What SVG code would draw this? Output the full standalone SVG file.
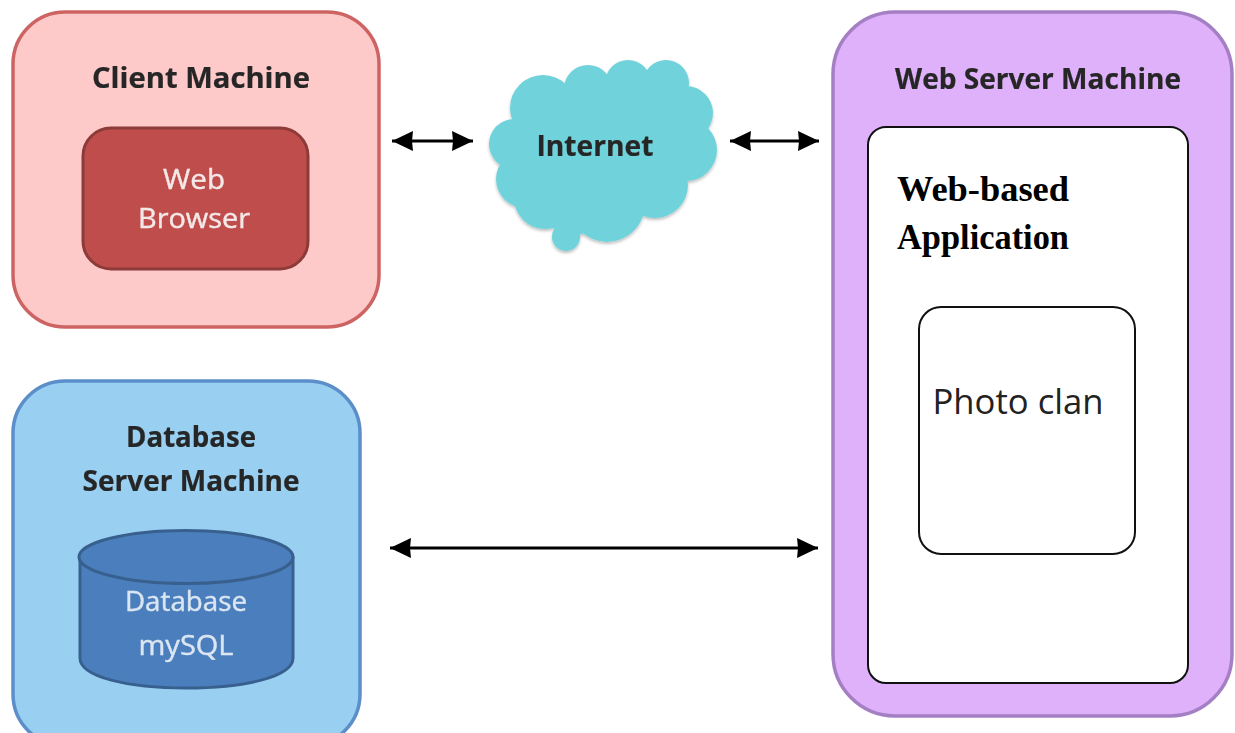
<svg xmlns="http://www.w3.org/2000/svg" width="1235" height="733" viewBox="0 0 1235 733">
<style>
.c{font-family:"Open Sans","Noto Sans","Liberation Sans",sans-serif;font-size:28px;text-anchor:middle}
.h{font-weight:700;fill:#262626;stroke:#262626;stroke-width:.2}
.w{fill:#f4e9e9;stroke:#f4e9e9;stroke-width:.4}
.d{fill:#dbe6f2;stroke:#dbe6f2;stroke-width:.4}
.s{font-family:"Liberation Serif",serif;font-weight:700;font-size:36px;fill:#000}
.l{fill:none;stroke:#000;stroke-width:3}
</style>
<defs>
<marker id="a" markerUnits="userSpaceOnUse" markerWidth="24" markerHeight="22" refX="21" refY="10" orient="auto-start-reverse"><path d="M0 0L21 10L0 20L1 10Z" fill="#000"/></marker>
<filter id="b" x="-5%" y="-5%" width="110%" height="110%"><feGaussianBlur stdDeviation="0.7"/></filter>
<filter id="sh" x="-10%" y="-10%" width="120%" height="120%"><feDropShadow dx="0" dy="2" stdDeviation="1.500" flood-color="#000" flood-opacity=".25"/></filter>
</defs>
<rect width="1235" height="733" fill="#fff"/>
<g id="client" filter="url(#b)">
<rect x="13" y="12" width="366" height="315" rx="52" fill="#fec9c9" stroke="#cd6464" stroke-width="3.500"/>
<rect x="83" y="128" width="225" height="141" rx="28" fill="#bf4e4c" stroke="#8c3a38" stroke-width="3"/>
<text class="c h" x="201" y="88" textLength="218" lengthAdjust="spacingAndGlyphs">Client Machine</text>
<text class="c w" x="194" y="189" textLength="62" lengthAdjust="spacingAndGlyphs">Web</text>
<text class="c w" x="194" y="228" textLength="112" lengthAdjust="spacingAndGlyphs">Browser</text>
</g>
<g id="internet" filter="url(#b)">
<g fill="#70d2da" filter="url(#sh)">
<circle cx="543" cy="108" r="33"/>
<circle cx="588" cy="89" r="24"/>
<circle cx="628" cy="83" r="23"/>
<circle cx="666" cy="83" r="23"/>
<circle cx="686" cy="113" r="27"/>
<circle cx="686" cy="150" r="31"/>
<circle cx="655" cy="185" r="33"/>
<circle cx="607" cy="204" r="38"/>
<circle cx="566" cy="237" r="14"/>
<circle cx="572" cy="210" r="26"/>
<circle cx="545" cy="198" r="31"/>
<circle cx="525" cy="179" r="29"/>
<circle cx="514" cy="144" r="25"/>
<path d="M520 110L600 80L690 90L700 150L650 200L560 210L520 180Z"/>
</g>
<text class="c h" x="595" y="156" textLength="117" lengthAdjust="spacingAndGlyphs">Internet</text>
</g>
<g id="database" filter="url(#b)">
<rect x="13" y="381" width="347" height="365" rx="52" fill="#99d0f2" stroke="#5b8fca" stroke-width="3.500"/>
<path d="M80 558V658C80 677 128 688 186 688S293 677 293 658V558Z" fill="#4c7ebc" stroke="#38618f" stroke-width="3"/>
<ellipse cx="186" cy="557" rx="107" ry="26.500" fill="#4c7ebc" stroke="#38618f" stroke-width="3"/>
<text class="c h" x="191" y="447" textLength="130" lengthAdjust="spacingAndGlyphs">Database</text>
<text class="c h" x="191" y="491" textLength="217" lengthAdjust="spacingAndGlyphs">Server Machine</text>
<text class="c d" x="186" y="611" textLength="122" lengthAdjust="spacingAndGlyphs">Database</text>
<text class="c d" x="186" y="655" textLength="95" lengthAdjust="spacingAndGlyphs">mySQL</text>
</g>
<g id="webserver" filter="url(#b)">
<rect x="833" y="12" width="399" height="704" rx="62" fill="#dfb1fa" stroke="#a47fc4" stroke-width="3.500"/>
<text class="c h" x="1038" y="89" textLength="286" lengthAdjust="spacingAndGlyphs">Web Server Machine</text>
</g>
<g id="app">
<rect x="868" y="127" width="320" height="556" rx="18" fill="#fff" stroke="#111" stroke-width="2"/>
<text class="s" x="897" y="201" textLength="172" lengthAdjust="spacingAndGlyphs">Web-based</text>
<text class="s" x="897" y="249" textLength="172" lengthAdjust="spacingAndGlyphs">Application</text>
</g>
<g id="photo">
<rect x="919" y="307" width="216" height="247" rx="22" fill="#fff" stroke="#111" stroke-width="2"/>
<text x="1018" y="414" font-family="'Open Sans','Liberation Sans',sans-serif" font-size="35" text-anchor="middle" fill="#222" textLength="171" lengthAdjust="spacingAndGlyphs">Photo clan</text>
</g>
<g id="connectors" filter="url(#b)">
<line class="l" x1="392" y1="141" x2="473" y2="141" marker-start="url(#a)" marker-end="url(#a)"/>
<line class="l" x1="730" y1="141" x2="819" y2="141" marker-start="url(#a)" marker-end="url(#a)"/>
<line class="l" x1="390" y1="548" x2="818" y2="548" marker-start="url(#a)" marker-end="url(#a)"/>
</g>
</svg>
